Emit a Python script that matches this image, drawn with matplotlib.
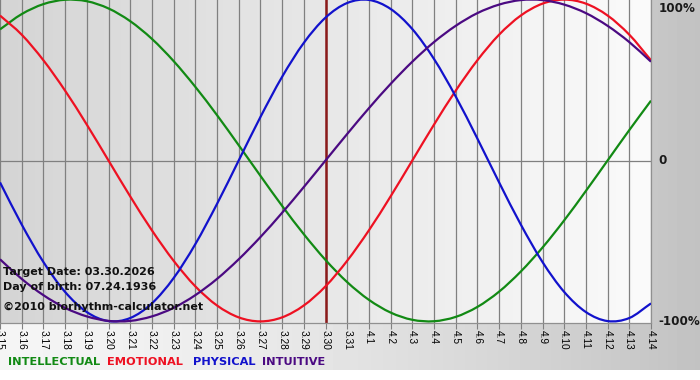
import numpy as np
import matplotlib
matplotlib.use("Agg")
import matplotlib.pyplot as plt
from matplotlib.colors import LinearSegmentedColormap
from matplotlib.path import Path
from matplotlib.patches import PathPatch

# days shown on the x axis
days = ['3.15', '3.16', '3.17', '3.18', '3.19', '3.20', '3.21', '3.22', '3.23', '3.24',
        '3.25', '3.26', '3.27', '3.28', '3.29', '3.30', '3.31', '4.1', '4.2', '4.3',
        '4.4', '4.5', '4.6', '4.7', '4.8', '4.9', '4.10', '4.11', '4.12', '4.13', '4.14']
target_day = '3.30'

# cycle values per day, -1 .. 1
intellectual = [0.815, 0.910, 0.972, 0.999, 0.990, 0.945, 0.866, 0.756, 0.618, 0.458,
                0.282, 0.095, -0.095, -0.282, -0.458, -0.618, -0.756, -0.866, -0.945, -0.990,
                -0.999, -0.972, -0.910, -0.815, -0.690, -0.541, -0.372, -0.189, 0.0, 0.189,
                0.372]
emotional = [0.901, 0.782, 0.623, 0.434, 0.223, 0.0, -0.223, -0.434, -0.623, -0.782,
             -0.901, -0.975, -1.0, -0.975, -0.901, -0.782, -0.623, -0.434, -0.223, 0.0,
             0.223, 0.434, 0.623, 0.782, 0.901, 0.975, 1.0, 0.975, 0.901, 0.782,
             0.623]
physical = [-0.136, -0.398, -0.631, -0.817, -0.942, -0.998, -0.979, -0.888, -0.731, -0.520,
            -0.270, 0.0, 0.270, 0.520, 0.731, 0.888, 0.979, 0.998, 0.942, 0.817,
            0.631, 0.398, 0.136, -0.136, -0.398, -0.631, -0.817, -0.942, -0.998, -0.979,
            -0.888]
intuitive = [-0.614, -0.736, -0.837, -0.916, -0.969, -0.997, -0.997, -0.969, -0.916, -0.837,
             -0.736, -0.614, -0.476, -0.325, -0.165, 0.0, 0.165, 0.325, 0.476, 0.614,
             0.736, 0.837, 0.916, 0.969, 0.997, 0.997, 0.969, 0.916, 0.837, 0.736,
             0.614]

series = [('INTELLECTUAL', intellectual, '#128a14'),
          ('EMOTIONAL', emotional, '#ee1122'),
          ('PHYSICAL', physical, '#1212cc'),
          ('INTUITIVE', intuitive, '#4b0a82')]

info_lines = ['Target Date: 03.30.2026', 'Day of birth: 07.24.1936', '\u00a92010 biorhythm-calculator.net']


def smooth_path(xv, yv):
    # bezier segments through the daily points (rendering only)
    xv = np.asarray(xv, float)
    yv = np.asarray(yv, float)
    m = np.gradient(yv, xv)
    verts = [(xv[0], yv[0])]
    codes = [Path.MOVETO]
    for i in range(len(xv) - 1):
        h = (xv[i + 1] - xv[i]) / 3
        verts += [(xv[i] + h, yv[i] + m[i] * h),
                  (xv[i + 1] - h, yv[i + 1] - m[i + 1] * h),
                  (xv[i + 1], yv[i + 1])]
        codes += [Path.CURVE4] * 3
    return Path(verts, codes)


W, H = 700, 380
fig = plt.figure(figsize=(W / 100, H / 100), dpi=100)

# figure background: horizontal gradient, white strip at the bottom
bg = fig.add_axes([0, 0, 1, 1], zorder=-1)
xs = np.linspace(0, 1, W)
grad = 0.96 - 0.20 * xs ** 1.5
img = np.tile(grad, (H, 1))
img[370:, :] = 1.0
bg.imshow(img, cmap='gray', vmin=0, vmax=1, aspect='auto', extent=[0, 1, 0, 1])
bg.axis('off')

# plot area
ax = fig.add_axes([0, (H - 323) / H, 651 / W, 325 / H])
n = len(days)
x = np.arange(n)
ax.set_xlim(0, n - 1)
ax.set_ylim(-1.01, 1.01)

cm = LinearSegmentedColormap.from_list('bgplot', ['#d5d5d5', '#fbfbfb'])
ax.imshow(np.linspace(0, 1, 256).reshape(1, -1), cmap=cm, aspect='auto',
          extent=(0, n - 1, -1.01, 1.01), zorder=0)

ax.set_xticks(x)
ax.set_xticklabels(days, rotation=270, fontsize=7.3, family='Liberation Sans', va='top', ha='center')
ax.tick_params(axis='x', length=4, color='#808080', pad=1)
ax.grid(axis='x', color='#808080', lw=0.9, zorder=1)
ax.axhline(0, color='#808080', lw=0.9, zorder=1)
ax.set_yticks([])
for s in ['top', 'right', 'bottom']:
    ax.spines[s].set_color('#909090')
    ax.spines[s].set_linewidth(0.9)
ax.spines['left'].set_visible(False)

ax.axvline(days.index(target_day), color='#8b1a1a', lw=1.8, zorder=2)

for name, vals, col in series:
    ax.add_patch(PathPatch(smooth_path(x, vals), fill=False, edgecolor=col, lw=1.6,
                           zorder=3, joinstyle='round'))

# right side percent labels
for val, lab, va, dy in [(1, '100%', 'top', -1.5), (0, '0', 'center', 0), (-1, '-100%', 'center', 0)]:
    ax.annotate(lab, xy=(1, val), xycoords=('axes fraction', 'data'), xytext=(5.5, dy),
                textcoords='offset points', ha='left', va=va, fontsize=8.6, fontweight='bold',
                color='#1a1a1a', annotation_clip=False)

# info texts in the lower left
for txt, py in zip(info_lines, [272, 287, 307]):
    fig.text(3 / W, 1 - py / H, txt, fontsize=8, fontweight='bold', color='#111111',
             ha='left', va='center', zorder=5)

# coloured legend words
for (name, vals, col), px in zip(series, [8, 107, 193, 262]):
    fig.text(px / W, 1 - 362 / H, name, fontsize=8.2, fontweight='bold', color=col,
             ha='left', va='center')

fig.savefig('out.png', dpi=100)
